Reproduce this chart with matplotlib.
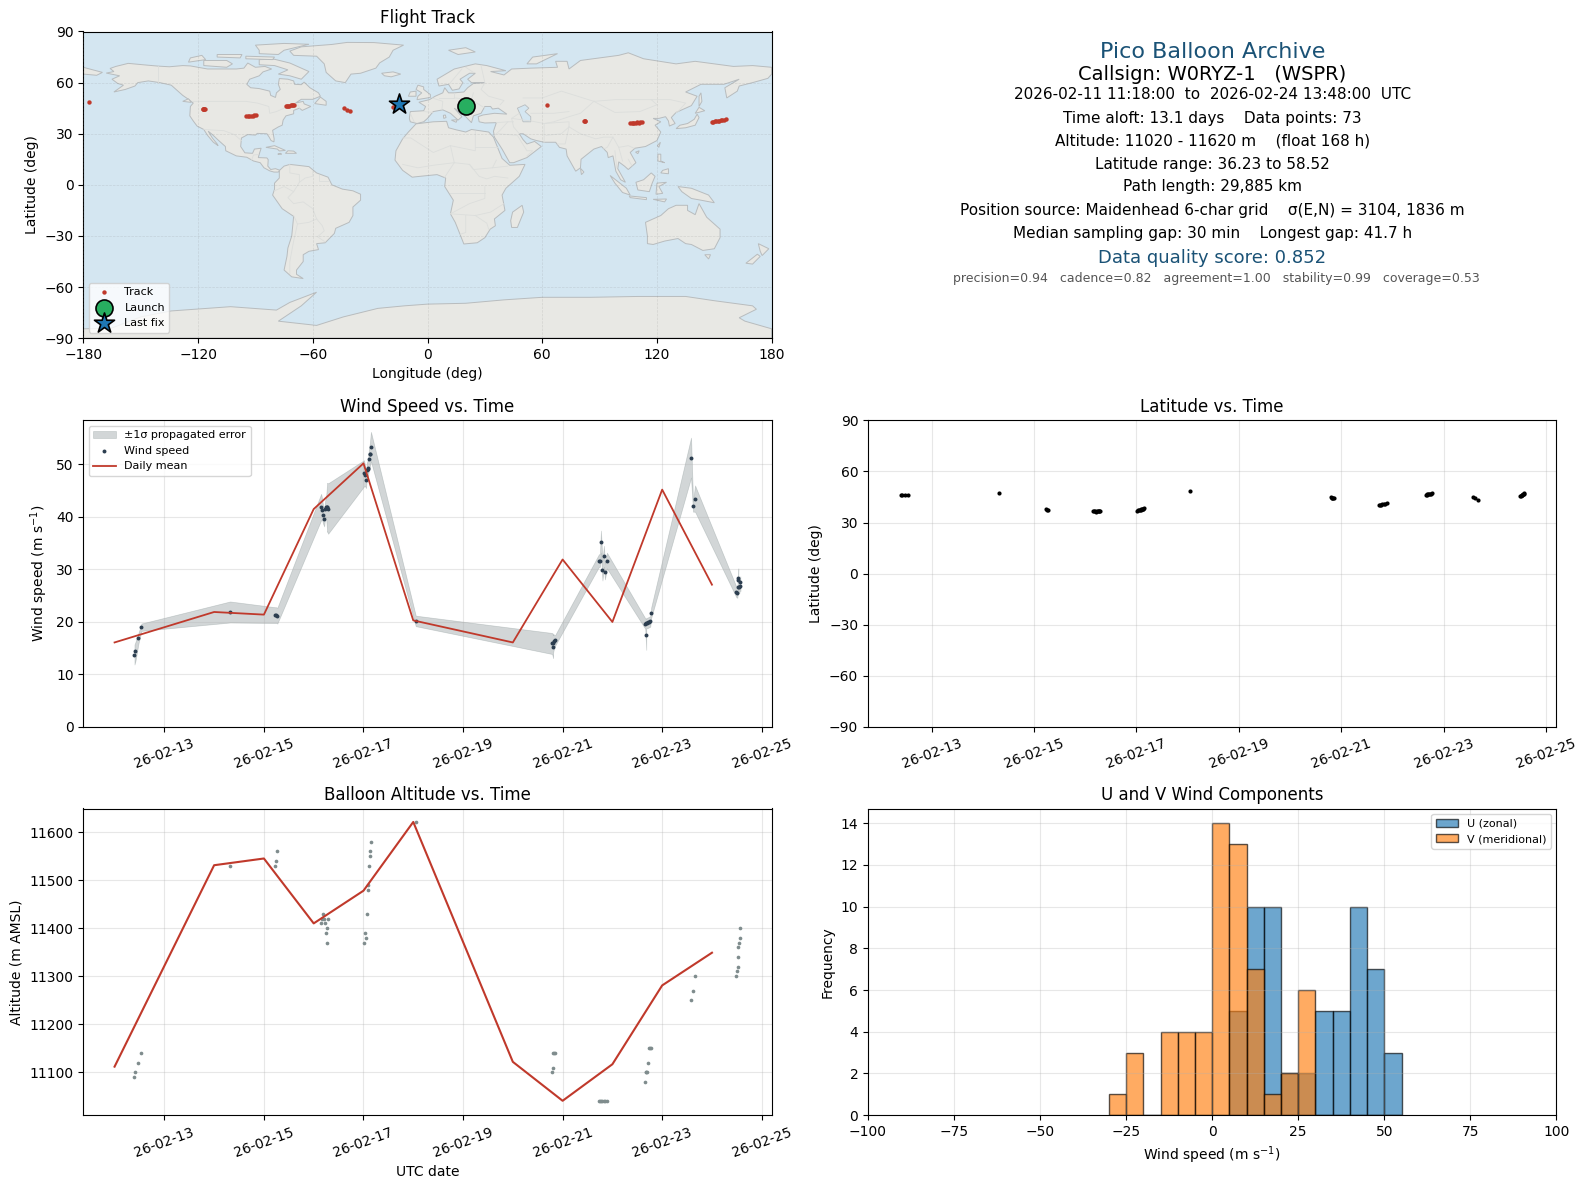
#!/usr/bin/env python3
"""Pico balloon flight summary: map, info block, wind, latitude, altitude, U/V histogram."""

import numpy as np
import pandas as pd
import matplotlib
matplotlib.use("Agg")
import matplotlib.pyplot as plt
import matplotlib.dates as mdates
from matplotlib.patches import Polygon

# --- flight data: day of February 2026 for each fix
days = [12.40, 12.42, 12.48, 12.54,
        14.32,
        15.23, 15.25, 15.27,
        16.15, 16.17, 16.19, 16.21, 16.23, 16.25, 16.27, 16.27, 16.29,
        17.01, 17.03, 17.05, 17.07, 17.09, 17.09, 17.11, 17.13, 17.13, 17.15,
        18.05,
        20.79, 20.81, 20.81, 20.83, 20.85,
        21.73, 21.75, 21.77, 21.80, 21.83, 21.85, 21.89,
        22.66, 22.68, 22.68, 22.70, 22.72, 22.74, 22.76, 22.78,
        23.58, 23.62, 23.66,
        24.49, 24.51, 24.53, 24.53, 24.53, 24.55, 24.57, 24.57]
wind = [13.8, 14.4, 16.9, 19.0,
        21.9,
        21.3, 21.3, 21.2,
        41.9, 41.4, 40.3, 39.7, 41.5, 41.9, 41.8, 41.9, 41.6,
        48.3, 47.9, 47.0, 48.9, 49.4, 49.2, 51.0, 51.9, 52.0, 53.4,
        20.2,
        15.9, 15.3, 16.0, 16.3, 16.5,
        31.7, 31.7, 35.3, 29.8, 32.5, 29.6, 31.7,
        19.7, 17.6, 19.8, 19.8, 19.9, 20.0, 20.1, 21.8,
        51.3, 42.0, 43.5,
        25.7, 25.6, 28.4, 28.0, 26.7, 26.7, 27.7, 26.9]
wind_err = [1.9, 1.8, 1.0, 0.7,
            2.0,
            1.5, 1.5, 1.5,
            2.5, 2.0, 1.6, 1.5, 1.6, 2.0, 4.6, 4.6, 4.8,
            2.5, 2.0, 1.5, 1.5, 1.5, 1.5, 2.0, 2.2, 2.2, 2.8,
            1.0,
            2.0, 2.2, 1.8, 1.2, 1.0,
            1.2, 1.2, 2.1, 1.9, 2.0, 1.5, 1.5,
            1.0, 2.9, 1.0, 1.0, 1.0, 1.0, 1.0, 1.0,
            3.8, 1.0, 2.5,
            1.0, 1.0, 1.8, 1.6, 1.2, 1.2, 1.0, 1.0]
altitude = [11090, 11100, 11120, 11140,
            11530,
            11530, 11540, 11560,
            11410, 11420, 11430, 11420, 11410, 11390, 11400, 11370, 11420,
            11370, 11390, 11380, 11430, 11480, 11490, 11530, 11550, 11560, 11580,
            11620,
            11100, 11110, 11140, 11140, 11140,
            11040, 11040, 11040, 11040, 11040, 11040, 11040,
            11080, 11100, 11100, 11100, 11120, 11150, 11150, 11150,
            11250, 11270, 11300,
            11300, 11310, 11320, 11340, 11360, 11370, 11380, 11400]
latitude = [45.9, 45.9, 45.9, 45.9,
            47.1,
            37.7, 37.6, 37.6,
            36.5, 36.5, 36.5, 36.4, 36.5, 36.6, 36.5, 36.6, 36.7,
            37.0, 37.1, 37.3, 37.5, 37.6, 37.7, 37.9, 38.1, 38.2, 38.5,
            48.7,
            44.8, 44.6, 44.5, 44.4, 44.3,
            40.4, 40.4, 40.5, 40.6, 40.7, 41.0, 41.2,
            46.4, 46.4, 46.5, 46.5, 46.6, 46.7, 46.9, 47.1,
            45.2, 44.2, 43.4,
            45.5, 45.7, 45.9, 46.1, 46.3, 46.5, 46.8, 47.1]
longitude = [19.2, 19.6, 20.4, 21.5,
             62.7,
             81.8, 82.2, 82.6,
             106.0, 106.8, 107.5, 108.2, 109.0, 109.8, 110.5, 111.2, 112.0,
             148.6, 149.4, 150.2, 151.0, 151.8, 152.6, 153.4, 154.2, 155.0, 156.0,
             -176.9,
             -117.6, -117.3, -117.0, -116.8, -116.5,
             -95.0, -94.0, -93.2, -92.4, -91.5, -90.6, -89.7,
             -74.0, -73.4, -72.8, -72.2, -71.6, -71.0, -70.3, -69.7,
             -43.9, -42.0, -40.4,
             -18.0, -17.2, -16.6, -16.0, -15.5, -15.0, -14.6, -14.8]

# daily means
mean_days = [12, 14, 15, 16, 17, 18, 20, 21, 22, 23, 24]
mean_wind = [16.1, 21.9, 21.4, 41.5, 50.2, 20.3, 16.1, 31.9, 20.0, 45.2, 27.1]
mean_alt = [11112, 11531, 11545, 11410, 11478, 11621, 11122, 11041, 11117, 11281, 11349]

launch_lon, launch_lat = 19.9, 46.4
last_lon, last_lat = -14.8, 47.5

# histogram bins and counts
hist_edges = list(range(-30, 60, 5))
u_counts = [0, 0, 0, 0, 0, 0, 0, 5, 10, 10, 2, 2, 5, 5, 10, 7, 3]
v_counts = [1, 3, 0, 4, 4, 4, 14, 13, 7, 1, 2, 6, 0, 0, 0, 0, 0]

date_ticks = [13, 15, 17, 19, 21, 23, 25]

# --- coarse world outline, lon/lat
north_america = [(-168, 65.6), (-164, 66.5), (-166, 68.3), (-163, 69.5), (-156.5, 71.3), (-148, 70.4),
                 (-141, 69.7), (-135, 69.3), (-128, 70), (-124, 69.8), (-115, 68), (-108, 68), (-100, 68),
                 (-96, 68.5), (-94, 71.5), (-90, 69), (-85, 69.5), (-81.5, 68), (-86, 66.3), (-88, 64),
                 (-93, 62), (-94.5, 59), (-92.5, 57), (-88, 56.5), (-82.5, 55), (-82, 52.5), (-79.5, 51.3),
                 (-79, 54), (-77, 56), (-78, 59), (-77.5, 62.4), (-73, 62), (-70, 61), (-69.5, 59), (-66, 58.8),
                 (-64.5, 60.3), (-61.5, 57), (-57, 54), (-56, 52), (-60, 50.2), (-66, 50.2), (-69, 48), (-65, 49),
                 (-64.5, 47.5), (-61, 46), (-65.5, 43.7), (-67, 45), (-70, 43.7), (-70, 41.7), (-74, 40.5),
                 (-75.5, 38), (-76, 35), (-78, 34), (-81, 32), (-80.2, 27), (-80.3, 25.2), (-81.8, 26), (-82.8, 28),
                 (-84, 30), (-89, 30.2), (-90, 29.2), (-94, 29.5), (-97.3, 27.5), (-97.7, 22.5), (-95.5, 18.8),
                 (-91.5, 18.5), (-90.5, 21), (-87, 21.5), (-88, 18), (-88.5, 16), (-84, 15.8), (-83.3, 14.8),
                 (-83.5, 11), (-82, 9), (-79.5, 9.5), (-77.3, 8.6), (-78, 7.5), (-80.3, 7.5), (-82.5, 8.2),
                 (-85.5, 10), (-87.5, 13), (-91, 14), (-94.5, 16.2), (-100, 17), (-105.5, 20), (-105.7, 22.5),
                 (-109, 25.8), (-112.5, 29.5), (-114.7, 31.5), (-112.5, 27.5), (-110, 24), (-109.5, 23), (-112, 25),
                 (-115, 29), (-117, 32.5), (-120.5, 34.5), (-122.5, 37.5), (-124.3, 40.5), (-124, 46), (-122.5, 48),
                 (-125, 50.2), (-128, 52.5), (-130.5, 55), (-134, 58.5), (-140, 60), (-146, 61), (-151.5, 60),
                 (-153, 58), (-158, 56), (-164, 54.5), (-159, 58.5), (-162, 59.5), (-165, 62), (-161, 64)]
south_america = [(-77.3, 8.6), (-75, 11), (-72, 12), (-68, 11.5), (-62, 10.7), (-58, 7), (-52, 4.5), (-50, 0),
                 (-44.5, -2.5), (-39, -3.5), (-35, -5.5), (-35, -9), (-39, -13), (-39, -18), (-41, -22),
                 (-48, -25.5), (-48.7, -28.5), (-53.5, -34), (-58, -34.5), (-57, -38), (-62, -39), (-65, -41),
                 (-65, -45), (-68.5, -50), (-68.5, -52.5), (-65, -55), (-71, -54), (-75, -50), (-73.5, -42),
                 (-73, -37), (-71, -30), (-70, -18.5), (-76, -14), (-81, -6), (-80, -2.5), (-80, 1), (-77.5, 4),
                 (-77.5, 7.5)]
africa = [(-6, 35.8), (3, 37), (10, 37.3), (11, 33.5), (15, 32.3), (20, 31), (23, 32.5), (32, 31), (34.5, 28),
          (37, 21), (39, 15.5), (43, 11.5), (51, 12), (48, 5), (41, -2), (39, -6), (40.5, -15), (35, -20),
          (35.5, -24), (32.8, -26), (30, -31), (26, -34), (19, -34.7), (17, -29), (14.5, -22), (12, -17),
          (13.5, -9), (9, -1), (9.5, 4), (5, 6), (-4, 5), (-8, 4.5), (-13, 8.5), (-17, 14.5), (-16.5, 20),
          (-13, 27), (-10, 31)]
eurasia = [(-9, 37), (-9.5, 39), (-9, 43), (-2, 43.5), (-1, 46), (-4.5, 48.5), (1, 50), (4, 52), (8, 54), (9, 57),
           (11, 54), (14, 54), (19, 54.5), (21, 57), (24, 59.5), (30, 60), (23, 60), (21, 62), (25, 65.5), (22, 65.5),
           (17, 62), (18.5, 60), (16.5, 56.3), (13, 55.5), (11, 59), (6, 58), (5, 62), (14, 68), (25, 71), (31, 70),
           (41, 67), (33, 66.5), (40, 64.5), (44, 68), (54, 68.5), (68, 69), (67, 72.5), (73, 72.5), (74, 68),
           (80, 73), (100, 76), (105, 77.5), (113, 74), (130, 71), (140, 72.5), (160, 69.5), (170, 70), (180, 69),
           (180, 65), (178, 62.5), (170, 60), (163, 58), (162, 55), (156.5, 51), (155.5, 57), (163, 62), (155, 59),
           (143, 59), (135, 54.5), (141, 52), (138, 46.5), (130, 42.5), (127.5, 39.5), (129.5, 36), (126.5, 34.5),
           (126, 37.5), (124.5, 40), (121, 39), (118, 39), (122, 37), (119, 35), (122, 31), (120, 26), (114, 22.5),
           (108.5, 21.5), (106, 19), (109, 13), (105, 9), (103, 11), (100, 13.5), (99.5, 9.5), (103.5, 1.5), (101, 3),
           (98.5, 8), (97, 17), (94.5, 16), (94, 19), (91, 22.5), (87, 21), (80.3, 15), (80, 10), (77.5, 8), (73, 17),
           (72.5, 21), (69, 22), (67, 25), (61, 25), (57, 26), (54, 27), (50, 30), (48, 30), (50, 26.5), (52, 24),
           (56, 25.5), (59.5, 22.5), (52, 16), (45, 13), (43, 13), (39, 21), (35, 28), (34.5, 31.5), (36, 36.5),
           (30, 36.3), (27, 37), (26.5, 40), (29, 41), (35, 42), (41.5, 41.5), (37, 45), (34, 44.5), (33, 46),
           (30, 46), (28, 42), (24, 40.5), (23, 36.5), (20, 40), (14, 45), (18, 40), (16, 38), (12, 42), (8, 44),
           (3, 43), (0, 39), (-2, 37), (-5.5, 36)]
greenland = [(-72, 78.5), (-66, 81), (-50, 82.4), (-42, 83.6), (-28, 83.5), (-12.5, 82), (-18, 79), (-20, 75),
             (-25, 71.6), (-27, 68.5), (-35, 65.5), (-40, 65), (-43, 60), (-48, 61), (-53, 66), (-54, 71), (-58, 75.5),
             (-70, 76)]
antarctica = [(-180, -84.5), (-165, -84), (-150, -77.5), (-134, -74), (-103, -71.5), (-79, -73.5), (-72, -69),
              (-58, -63), (-66, -71), (-78, -80), (-58, -82.5), (-44, -77.5), (-26, -72.5), (-12, -71),
              (0, -70), (20, -69.5), (40, -67.5), (60, -66), (85, -66), (110, -65.5), (135, -65.5), (150, -68),
              (170, -71), (172, -73), (163, -78), (166, -80), (180, -84.5), (180, -90), (-180, -90)]
australia = [(114, -22), (122, -18), (126, -14), (130, -12), (136, -12), (136, -15), (140, -17.5), (142, -11),
             (146, -19), (153, -26), (153, -31), (150, -37.5), (144, -38.5), (138, -35), (135, -34.5), (131, -31.5),
             (124, -33), (118, -35), (115, -34.5), (115, -30)]
islands = [
    [(-80, 73.7), (-72, 71.5), (-68, 69.5), (-62, 66.5), (-66, 62), (-72, 64), (-78, 65), (-73, 67.5), (-80, 70), (-88, 70.5), (-88, 73.5)],
    [(-117, 70), (-105, 69), (-102, 71), (-105, 73), (-117, 73)],
    [(-125, 72), (-116, 73.5), (-118, 76), (-124, 74.5)],
    [(-110, 75), (-98, 74.5), (-97, 76.5), (-110, 76.5)],
    [(-95, 74), (-81, 73.5), (-80, 75), (-95, 75.5)],
    [(-88, 77), (-78, 76.5), (-75, 79), (-62, 82.5), (-75, 83), (-90, 82), (-88, 79)],
    [(-59, 47.7), (-53, 46.7), (-53, 49), (-56, 51.5)],
    [(-84.5, 22), (-80, 23), (-74.3, 20.2), (-77.5, 19.9), (-78.5, 21)],
    [(-74.3, 18.5), (-68.5, 18.5), (-70, 19.8), (-73, 20)],
    [(-78.3, 18), (-76.3, 18), (-77, 18.5)],
    [(-128, 49), (-123.5, 48.4), (-125, 50.5)],
    [(-5.5, 50), (1.5, 51.3), (1.5, 53), (-2, 56), (-2, 57.5), (-5, 58.5), (-6, 56), (-3, 54), (-5, 52)],
    [(-10, 52), (-6, 52), (-6, 55), (-9, 54.5)],
    [(-24, 65.5), (-18, 66.3), (-14, 65), (-19, 63.4), (-22.5, 64)],
    [(11, 79), (20, 80.5), (25, 78), (16, 76.5)],
    [(52, 71), (57, 71), (68, 77), (55, 75)],
    [(8.5, 39), (9.7, 39.5), (9.3, 41), (8.3, 40.8)],
    [(12.5, 38), (15.5, 38.2), (15, 36.7)],
    [(49.5, -12), (50.3, -16), (47, -25), (44, -25), (43.5, -21), (44.5, -16)],
    [(80, 9.7), (81.8, 7.5), (80.5, 6)],
    [(130, 33), (135, 33.5), (140, 35), (142, 39.5), (141, 41.5), (139.5, 38.5), (136, 36), (132, 35)],
    [(140, 42), (145, 43.5), (142, 45.5)],
    [(142, 46), (143.5, 49), (143, 54), (142, 52)],
    [(120.2, 23), (121.8, 25), (121, 22)],
    [(108.8, 19.2), (110.7, 20), (110, 18.3)],
    [(120.5, 18), (122, 18), (122, 14), (124, 13), (120.5, 14)],
    [(122, 7), (126, 6.5), (126, 9.5), (123, 8.5)],
    [(109, 1.5), (113, 3), (117, 7), (119, 5), (117.5, 1), (116, -4), (110, -3)],
    [(95.5, 5.5), (104, -2), (106, -6), (102, -4.5), (98, 1)],
    [(105.5, -6.5), (114.5, -7.5), (114.5, -8.7), (106, -7.5)],
    [(119.5, -5.5), (120, 1), (125, 1.5), (121, -1), (123, -5)],
    [(131, -1), (138, -2), (147, -6), (150, -10.5), (143, -9), (138, -8), (133, -4)],
    [(118, -8.5), (125, -8.3), (124, -10)],
    [(145, -41), (148, -41), (147, -43.5)],
    [(173, -34.5), (178.5, -37.5), (175, -41.5), (174, -39)],
    [(172.5, -40.7), (174, -42), (170, -46.5), (166.5, -46)],
    [(-180, 65), (-173, 64.3), (-170, 66), (-180, 69)],
]
caspian = [(47, 45), (51, 47), (53, 45), (51, 43), (54, 40), (54, 37), (50, 37), (49, 40)]
borders = [
    [(-141, 69.7), (-141, 60)],
    [(-123, 49), (-95, 49), (-89, 48), (-83, 46), (-82.5, 42), (-79, 43), (-75, 45), (-71, 45), (-67.5, 47), (-67, 45)],
    [(-117, 32.5), (-106.5, 31.8), (-101, 29.5), (-97.3, 26)],
    [(-92, 14.5), (-91, 17.5), (-88.5, 17.8)],
    [(-72, 12), (-72, 7), (-67, 6), (-67, 1.5), (-70, -4), (-73, -7.5), (-70, -11), (-65, -10), (-60, -14), (-58, -20),
     (-55, -24), (-54, -27), (-57.5, -30.5), (-53.5, -33.5)],
    [(-60, 8), (-60, 5), (-64, 4), (-67, 1.5)],
    [(-70, -18), (-68, -23), (-70, -33), (-72, -45), (-72, -52)],
    [(-58, -20), (-62, -22), (-68, -23)],
    [(-80, -3.5), (-75, -1), (-70, -4)],
    [(-57, 6), (-57, 2), (-52, 2)],
    [(-13, 27.5), (-8.7, 27.5), (3, 19), (12, 23), (25, 20), (25, 31.5)],
    [(25, 22), (37, 22)],
    [(12, 23), (14, 13), (22, 12), (24, 9), (34, 10), (36, 14.5)],
    [(14, 13), (9, 4.5)],
    [(-13, 12), (-5, 10), (3, 11.5), (14, 13)],
    [(22, 12), (27, 5), (31, 3.5), (35, 5), (42, 4)],
    [(12, -5), (30, -5)],
    [(30, -1), (30, -8), (22, -11), (12, -17)],
    [(12, -17), (25, -18), (33, -16), (40, -11)],
    [(20, -18), (20, -28), (17, -29)],
    [(25, -18), (31, -22.5), (32, -26)],
    [(34, 10), (42, 11)],
    [(-9, 42), (-7, 37)],
    [(-2, 43), (3, 42.5)],
    [(2.5, 51), (8, 49), (7.5, 44)],
    [(6, 51), (14, 51), (14, 54)],
    [(14, 51), (23, 50), (24, 54)],
    [(23, 50), (30, 45)],
    [(28, 70), (30, 60), (28, 56), (32, 52), (40, 49.5), (38, 47)],
    [(20, 69), (24, 66)],
    [(12, 60), (18, 68)],
    [(48, 42), (44, 39), (45, 34), (48, 30)],
    [(36, 36.5), (42, 37), (45, 37)],
    [(35, 29), (38, 32), (42, 37)],
    [(37, 30), (47, 29), (52, 20), (55, 20), (52, 17)],
    [(44, 39), (54, 37.5), (61, 36), (61, 25)],
    [(61, 36), (74, 37), (74, 34), (70, 30), (62, 29)],
    [(74, 34), (72, 24), (68, 24)],
    [(74, 34), (80, 30), (88, 27), (92, 28), (97, 28), (94, 22), (92, 21)],
    [(97, 28), (100, 22), (105, 23), (108, 21.5)],
    [(100, 22), (102, 14)],
    [(105, 15), (107, 11)],
    [(99, 10), (98, 20)],
    [(50, 51), (60, 51), (70, 55), (87, 49), (80, 42), (74, 40), (66, 37), (61, 36)],
    [(54, 42), (66, 42), (74, 43)],
    [(87, 49), (98, 50), (107, 50), (117, 50), (127, 50), (135, 48), (131, 43), (130, 42.5)],
    [(87, 49), (98, 42.5), (111, 43), (120, 47), (117, 50)],
]
land_shapes = [north_america, south_america, africa, eurasia, greenland, antarctica, australia] + islands

# info block lines
info_title = "Pico Balloon Archive"
info_call = "Callsign: W0RYZ-1   (WSPR)"
info_lines = [
    "2026-02-11 11:18:00  to  2026-02-24 13:48:00  UTC",
    "Time aloft: 13.1 days    Data points: 73",
    "Altitude: 11020 - 11620 m    (float 168 h)",
    "Latitude range: 36.23 to 58.52",
    "Path length: 29,885 km",
    "Position source: Maidenhead 6-char grid    σ(E,N) = 3104, 1836 m",
    "Median sampling gap: 30 min    Longest gap: 41.7 h",
]
info_score = "Data quality score: 0.852"
info_detail = "precision=0.94   cadence=0.82   agreement=1.00   stability=0.99   coverage=0.53"


def feb_dates(values):
    # дни февраля -> даты
    return pd.Timestamp("2026-02-01") + pd.to_timedelta(np.asarray(values, dtype=float) - 1, unit="D")


def axes_box(fig, left, top):
    # box placed by its top-left pixel
    W, H = 1588.0, 1189.0
    return fig.add_axes([left / W, 1 - (top + 306.7) / H, 688.4 / W, 306.7 / H])


def format_dates(ax, day_range=(11.372, 25.2)):
    ax.set_xlim(feb_dates(day_range))
    ax.set_xticks(feb_dates(date_ticks))
    ax.xaxis.set_major_formatter(mdates.DateFormatter("%y-%m-%d"))
    ax.tick_params(axis="x", rotation=20)
    ax.grid(True, alpha=0.3)


def draw_map(ax):
    ax.set_facecolor("#d4e6f1")
    for shape in land_shapes:
        ax.add_patch(Polygon(shape, closed=True, facecolor="#e8e8e4", edgecolor="#b8bcbe",
                             linewidth=0.7, zorder=1))
    ax.add_patch(Polygon(caspian, closed=True, facecolor="#d4e6f1", edgecolor="#b8bcbe",
                         linewidth=0.6, zorder=1.1))
    for line in borders:
        xs, ys = zip(*line)
        ax.plot(xs, ys, color="#dcdedc", linewidth=0.6, zorder=1.2)
    ax.scatter(longitude, latitude, s=10, color="#c0392b", linewidths=0, zorder=4, label="Track")
    ax.scatter([launch_lon], [launch_lat], s=150, color="#27ae60", edgecolor="black",
               linewidth=1.2, zorder=5, label="Launch")
    ax.scatter([last_lon], [last_lat], s=230, marker="*", color="#1f77b4", edgecolor="black",
               linewidth=1.2, zorder=6, label="Last fix")
    ax.set_xlim(-180, 180)
    ax.set_ylim(-90, 90)
    ax.set_xticks(range(-180, 181, 60))
    ax.set_yticks(range(-90, 91, 30))
    ax.set_axisbelow(False)
    ax.grid(True, color="gray", alpha=0.2, linewidth=0.5, linestyle="--")
    ax.set_xlabel("Longitude (deg)")
    ax.set_ylabel("Latitude (deg)")
    ax.set_title("Flight Track")
    ax.legend(loc="lower left", fontsize=8)


def draw_info(fig):
    W, H = 1588.0, 1189.0
    cx = 1212.2 / W
    fig.text(cx, 1 - 52 / H, info_title, ha="center", va="center", fontsize=16, color="#1a5276")
    fig.text(cx, 1 - 74 / H, info_call, ha="center", va="center", fontsize=14)
    y_lines = [94.5, 118.5, 141.5, 164, 187, 210.5, 233.5]
    for y, line in zip(y_lines, info_lines):
        fig.text(cx, 1 - y / H, line, ha="center", va="center", fontsize=11)
    fig.text(cx, 1 - 258 / H, info_score, ha="center", va="center", fontsize=13, color="#1a5276")
    fig.text(cx + 4 / W, 1 - 279 / H, info_detail, ha="center", va="center", fontsize=9, color="#555555")


def main():
    fig = plt.figure(figsize=(15.88, 11.89), dpi=100)

    ax_map = axes_box(fig, 83.3, 31.5)
    draw_map(ax_map)
    draw_info(fig)

    t = feb_dates(days)
    t_mean = feb_dates(mean_days)
    w = np.array(wind)
    e = np.array(wind_err)

    # wind speed
    ax = axes_box(fig, 83.3, 420.3)
    ax.fill_between(t, w - e, w + e, color="#7f8c8d", alpha=0.35, linewidth=0.5, label="±1σ propagated error")
    ax.scatter(t, w, s=8, color="#2c3e50", linewidths=0, zorder=3, label="Wind speed")
    ax.plot(t_mean, mean_wind, color="#c0392b", linewidth=1.3, zorder=4, label="Daily mean")
    format_dates(ax)
    ax.set_ylim(0, 58.4)
    ax.set_ylabel("Wind speed (m s$^{-1}$)")
    ax.set_title("Wind Speed vs. Time")
    ax.legend(loc="upper left", fontsize=8)

    # latitude: no daily mean here, so the date range starts later
    ax = axes_box(fig, 868, 420.3)
    ax.scatter(t, latitude, s=9, color="black", linewidths=0, zorder=3)
    format_dates(ax, day_range=(11.76, 25.2))
    ax.set_ylim(-90, 90)
    ax.set_yticks(range(-90, 91, 30))
    ax.set_ylabel("Latitude (deg)")
    ax.set_title("Latitude vs. Time")

    # altitude
    ax = axes_box(fig, 83.3, 808.5)
    ax.scatter(t, altitude, s=7, color="#7f8c8d", linewidths=0, zorder=3)
    ax.plot(t_mean, mean_alt, color="#c0392b", linewidth=1.5, zorder=4)
    format_dates(ax)
    ax.set_ylim(11011, 11649)
    ax.set_xlabel("UTC date")
    ax.set_ylabel("Altitude (m AMSL)")
    ax.set_title("Balloon Altitude vs. Time")

    # U and V histogram
    ax = axes_box(fig, 868, 808.5)
    edges = np.array(hist_edges, dtype=float)
    centers = edges[:-1] + 2.5
    ax.hist(centers, bins=edges, weights=u_counts, alpha=0.65, color="#1f77b4", edgecolor="black",
            label="U (zonal)")
    ax.hist(centers, bins=edges, weights=v_counts, alpha=0.65, color="#ff7f0e", edgecolor="black",
            label="V (meridional)")
    ax.set_xlim(-100, 100)
    ax.set_ylim(0, 14.7)
    ax.grid(True, alpha=0.3)
    ax.set_xlabel("Wind speed (m s$^{-1}$)")
    ax.set_ylabel("Frequency")
    ax.set_title("U and V Wind Components")
    ax.legend(loc="upper right", fontsize=8)

    fig.savefig("out.png", dpi=100)
    plt.close(fig)


if __name__ == "__main__":
    main()
